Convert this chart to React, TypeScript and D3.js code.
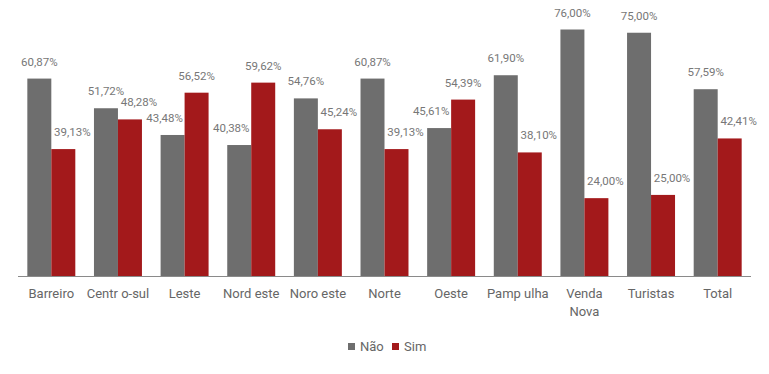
import * as d3 from "d3";

const categories = [
  ["Barreiro"],
  ["Centr o-sul"],
  ["Leste"],
  ["Nord este"],
  ["Noro este"],
  ["Norte"],
  ["Oeste"],
  ["Pamp ulha"],
  ["Venda", "Nova"],
  ["Turistas"],
  ["Total"],
];
const nao = [60.87, 51.72, 43.48, 40.38, 54.76, 60.87, 45.61, 61.9, 76.0, 75.0, 57.59];
const sim = [39.13, 48.28, 56.52, 59.62, 45.24, 39.13, 54.39, 38.1, 24.0, 25.0, 42.41];
const seriesNames = ["Não", "Sim"];

const GREY = "#6e6e6e";
const RED = "#a3191b";
const TEXT = "#777777";
const FONT = "Roboto, 'DejaVu Sans', sans-serif";

const W = 769;
const H = 374;

export default function App() {
  const keys = categories.map((c) => c.join(" "));
  const x0 = d3
    .scaleBand<string>()
    .domain(keys)
    .range([18, 751])
    .paddingInner(0.28)
    .paddingOuter(0.14);
  const x1 = d3
    .scaleBand<string>()
    .domain(seriesNames)
    .range([0, x0.bandwidth()]);
  const y = d3.scaleLinear().domain([0, 76]).range([276, 29.5]);
  const fmt = (v: number) => v.toFixed(2).replace(".", ",") + "%";

  return (
    <svg
      width={W}
      height={H}
      style={{ position: "absolute", left: 0, top: 0 }}
      fontFamily={FONT}
    >
      <rect width={W} height={H} fill="#fff" />
      {keys.map((k, i) => {
        const vals = [nao[i], sim[i]];
        return (
          <g key={k} transform={`translate(${x0(k)},0)`}>
            {seriesNames.map((s, j) => {
              const v = vals[j];
              const other = vals[1 - j];
              const bx = x1(s)!;
              const cx = bx + x1.bandwidth() / 2;
              // lower bar's label is pushed outward, like the original
              const shift = v < other ? (j === 0 ? -8 : 9) : 0;
              return (
                <g key={s}>
                  <rect
                    x={bx}
                    y={y(v)}
                    width={x1.bandwidth()}
                    height={y(0) - y(v)}
                    fill={j === 0 ? GREY : RED}
                  />
                  <text
                    x={cx + shift}
                    y={y(v) - 13}
                    textAnchor="middle"
                    fontSize={11.5}
                    fill={TEXT}
                  >
                    {fmt(v)}
                  </text>
                </g>
              );
            })}
            <text
              x={x0.bandwidth() / 2}
              y={298}
              textAnchor="middle"
              fontSize={13}
              fill="#666"
            >
              {categories[i].map((line, li) => (
                <tspan key={li} x={x0.bandwidth() / 2} dy={li === 0 ? 0 : 18}>
                  {line}
                </tspan>
              ))}
            </text>
          </g>
        );
      })}
      <line x1={18} x2={751} y1={276.5} y2={276.5} stroke="#8a8a8a" strokeWidth={1} />
      <g transform="translate(348,343)">
        <rect x={0} y={0} width={7} height={7} fill={GREY} />
        <text x={12} y={8} fontSize={13} fill="#666">
          {seriesNames[0]}
        </text>
        <rect x={44} y={0} width={7} height={7} fill={RED} />
        <text x={56} y={8} fontSize={13} fill="#666">
          {seriesNames[1]}
        </text>
      </g>
    </svg>
  );
}
